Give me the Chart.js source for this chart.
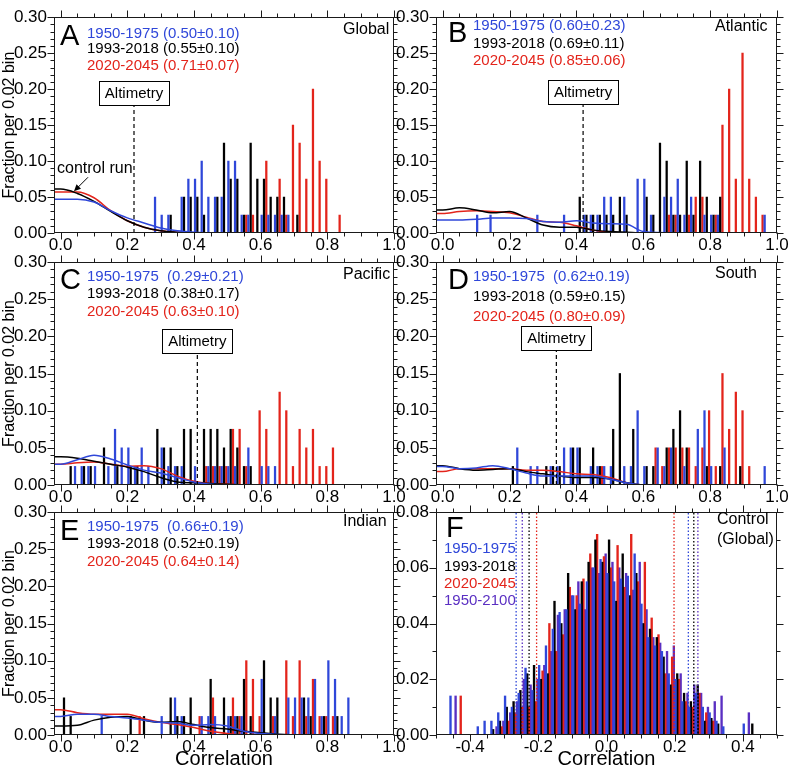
<!doctype html>
<html>
<head>
<meta charset="UTF-8" />
<script src="https://cdn.jsdelivr.net/npm/chart.js@4"></script>
<style>
  body { margin: 0; background: #fff; }
  #wrap { position: relative; width: 796px; height: 773px; }
  #wrap canvas { position: absolute; left: 0; top: 0; }
</style>
</head>
<body>
<div id="wrap"></div>
<script>
// tick labels
const xTicksAE = [0, 0.2, 0.4, 0.6, 0.8, 1.0];
const yTicksAE = [0, 0.05, 0.10, 0.15, 0.20, 0.25, 0.30];
const xTicksF = [-0.4, -0.2, 0, 0.2, 0.4];
const yTicksF = [0, 0.02, 0.04, 0.06, 0.08];

// control run density curves (x grid shared by A-E)
const ctrlX = [-0.02, 0, 0.05, 0.1, 0.15, 0.2, 0.25, 0.3, 0.35, 0.4, 0.45, 0.5, 0.55, 0.6, 0.7, 1.0];
const aCtrlBlue  = [0.047, 0.047, 0.047, 0.043, 0.031, 0.021, 0.014, 0.007, 0.003, 0.001, 0, 0, 0, 0, 0, 0];
const aCtrlBlack = [0.061, 0.061, 0.055, 0.044, 0.030, 0.017, 0.008, 0.003, 0.001, 0, 0, 0, 0, 0, 0, 0];
const aCtrlRed   = [0.057, 0.057, 0.057, 0.049, 0.031, 0.017, 0.008, 0.003, 0.001, 0, 0, 0, 0, 0, 0, 0];
const bCtrlBlue  = [0.018, 0.018, 0.018, 0.019, 0.021, 0.021, 0.020, 0.016, 0.015, 0.017, 0.014, 0.013, 0.012, 0.002, 0, 0];
const bCtrlBlack = [0.032, 0.032, 0.035, 0.032, 0.028, 0.030, 0.021, 0.011, 0.008, 0.008, 0.004, 0.002, 0.001, 0, 0, 0];
const bCtrlRed   = [0.027, 0.027, 0.030, 0.031, 0.030, 0.028, 0.022, 0.016, 0.015, 0.010, 0.004, 0.001, 0, 0, 0, 0];
const cCtrlBlue  = [0.028, 0.028, 0.034, 0.040, 0.035, 0.027, 0.020, 0.016, 0.010, 0.004, 0.001, 0, 0, 0, 0, 0];
const cCtrlBlack = [0.038, 0.038, 0.036, 0.032, 0.028, 0.024, 0.018, 0.010, 0.004, 0.003, 0.002, 0.001, 0, 0, 0, 0];
const cCtrlRed   = [0.028, 0.028, 0.030, 0.031, 0.028, 0.025, 0.026, 0.022, 0.012, 0.005, 0.002, 0.001, 0, 0, 0, 0];
const dCtrlBlue  = [0.025, 0.025, 0.022, 0.023, 0.026, 0.022, 0.016, 0.012, 0.012, 0.012, 0.012, 0.008, 0.003, 0, 0, 0];
const dCtrlBlack = [0.026, 0.026, 0.022, 0.020, 0.021, 0.022, 0.018, 0.015, 0.012, 0.010, 0.010, 0.008, 0.003, 0, 0, 0];
const dCtrlRed   = [0.018, 0.018, 0.022, 0.022, 0.022, 0.022, 0.020, 0.020, 0.018, 0.015, 0.014, 0.010, 0.003, 0, 0, 0];
const eCtrlBlue  = [0.025, 0.025, 0.028, 0.028, 0.025, 0.023, 0.020, 0.017, 0.016, 0.013, 0.014, 0.012, 0.005, 0.002, 0, 0];
const eCtrlBlack = [0.012, 0.012, 0.013, 0.020, 0.024, 0.025, 0.020, 0.017, 0.018, 0.014, 0.010, 0.008, 0.005, 0.003, 0, 0];
const eCtrlRed   = [0.034, 0.034, 0.030, 0.028, 0.028, 0.028, 0.022, 0.017, 0.014, 0.010, 0.005, 0.002, 0, 0, 0, 0];

// ensemble histograms, fraction per 0.02 bin
const aBlueBins  = [0.29, 0.31, 0.33, 0.37, 0.39, 0.41, 0.43, 0.45, 0.47, 0.49, 0.51, 0.53, 0.55, 0.57, 0.61, 0.63, 0.65, 0.67, 0.69];
const aBlueFrac  = [0.05, 0.025, 0.025, 0.05, 0.075, 0.075, 0.10, 0.05, 0.05, 0.05, 0.10, 0.10, 0.025, 0.025, 0.025, 0.025, 0.025, 0.025, 0.025];
const aBlackBins = [0.33, 0.37, 0.39, 0.41, 0.43, 0.47, 0.49, 0.51, 0.53, 0.55, 0.57, 0.59, 0.61, 0.63, 0.65, 0.67, 0.71];
const aBlackFrac = [0.025, 0.05, 0.05, 0.05, 0.025, 0.05, 0.125, 0.075, 0.075, 0.025, 0.125, 0.075, 0.075, 0.05, 0.05, 0.05, 0.025];
const aRedBins   = [0.55, 0.57, 0.61, 0.65, 0.67, 0.69, 0.71, 0.73, 0.75, 0.77, 0.79, 0.83];
const aRedFrac   = [0.025, 0.025, 0.10, 0.075, 0.025, 0.15, 0.125, 0.075, 0.20, 0.10, 0.075, 0.025];

const bBlueBins  = [0.11, 0.15, 0.29, 0.37, 0.43, 0.45, 0.47, 0.49, 0.51, 0.55, 0.59, 0.61, 0.63, 0.67, 0.69, 0.71, 0.73, 0.75, 0.79, 0.81, 0.83, 0.97];
const bBlueFrac  = [0.025, 0.025, 0.025, 0.025, 0.025, 0.025, 0.025, 0.05, 0.05, 0.05, 0.075, 0.075, 0.025, 0.05, 0.05, 0.075, 0.025, 0.05, 0.025, 0.025, 0.025, 0.025];
const bBlackBins = [0.41, 0.43, 0.45, 0.47, 0.49, 0.51, 0.53, 0.55, 0.61, 0.63, 0.65, 0.67, 0.69, 0.71, 0.73, 0.75, 0.77, 0.79, 0.81, 0.83];
const bBlackFrac = [0.05, 0.025, 0.025, 0.025, 0.025, 0.025, 0.05, 0.025, 0.05, 0.025, 0.125, 0.10, 0.025, 0.025, 0.10, 0.025, 0.10, 0.05, 0.025, 0.05];
const bRedBins   = [0.67, 0.69, 0.73, 0.75, 0.77, 0.81, 0.83, 0.85, 0.87, 0.89, 0.91, 0.93, 0.95];
const bRedFrac   = [0.025, 0.025, 0.025, 0.05, 0.05, 0.025, 0.15, 0.20, 0.075, 0.25, 0.075, 0.05, 0.025];

const cBlueBins  = [0.05, 0.07, 0.09, 0.11, 0.15, 0.17, 0.19, 0.21, 0.23, 0.25, 0.27, 0.31, 0.33, 0.35, 0.37, 0.41, 0.45, 0.47, 0.49, 0.51, 0.53, 0.57, 0.61, 0.63, 0.65];
const cBlueFrac  = [0.025, 0.025, 0.025, 0.025, 0.025, 0.075, 0.05, 0.05, 0.025, 0.05, 0.025, 0.05, 0.025, 0.025, 0.025, 0.025, 0.025, 0.025, 0.025, 0.025, 0.025, 0.05, 0.025, 0.025, 0.025];
const cBlackBins = [0.03, 0.07, 0.09, 0.13, 0.17, 0.21, 0.23, 0.29, 0.31, 0.33, 0.35, 0.37, 0.39, 0.43, 0.45, 0.47, 0.49, 0.51, 0.53, 0.55, 0.57];
const cBlackFrac = [0.025, 0.025, 0.025, 0.05, 0.025, 0.025, 0.025, 0.075, 0.05, 0.05, 0.025, 0.075, 0.075, 0.075, 0.075, 0.075, 0.05, 0.075, 0.05, 0.025, 0.025];
const cRedBins   = [0.43, 0.45, 0.47, 0.49, 0.51, 0.53, 0.55, 0.59, 0.61, 0.65, 0.67, 0.69, 0.71, 0.73, 0.75, 0.77, 0.79, 0.81];
const cRedFrac   = [0.025, 0.025, 0.025, 0.025, 0.075, 0.075, 0.025, 0.10, 0.075, 0.125, 0.10, 0.025, 0.075, 0.05, 0.075, 0.025, 0.025, 0.05];

const dBlueBins  = [0.23, 0.27, 0.29, 0.33, 0.35, 0.37, 0.39, 0.41, 0.45, 0.47, 0.49, 0.51, 0.55, 0.57, 0.59, 0.61, 0.65, 0.67, 0.69, 0.73, 0.77, 0.79, 0.81, 0.85, 0.97];
const dBlueFrac  = [0.05, 0.025, 0.025, 0.025, 0.025, 0.05, 0.05, 0.05, 0.025, 0.025, 0.025, 0.025, 0.025, 0.025, 0.10, 0.025, 0.05, 0.025, 0.05, 0.025, 0.075, 0.10, 0.025, 0.05, 0.025];
const dBlackBins = [0.21, 0.31, 0.33, 0.35, 0.39, 0.41, 0.45, 0.47, 0.51, 0.53, 0.57, 0.61, 0.63, 0.67, 0.69, 0.71, 0.73, 0.79, 0.83, 0.89];
const dBlackFrac = [0.025, 0.025, 0.025, 0.025, 0.05, 0.05, 0.05, 0.025, 0.075, 0.15, 0.075, 0.025, 0.025, 0.05, 0.075, 0.10, 0.05, 0.025, 0.025, 0.025];
const dRedBins   = [0.47, 0.63, 0.65, 0.67, 0.69, 0.71, 0.73, 0.75, 0.77, 0.79, 0.81, 0.83, 0.85, 0.87, 0.89, 0.91];
const dRedFrac   = [0.025, 0.05, 0.025, 0.05, 0.05, 0.05, 0.05, 0.025, 0.05, 0.10, 0.025, 0.15, 0.075, 0.125, 0.10, 0.025];

const eBlueBins  = [0.13, 0.31, 0.35, 0.37, 0.43, 0.45, 0.47, 0.51, 0.53, 0.55, 0.61, 0.65, 0.69, 0.71, 0.73, 0.75, 0.77, 0.79, 0.81, 0.83, 0.85, 0.87];
const eBlueFrac  = [0.025, 0.025, 0.05, 0.025, 0.025, 0.025, 0.025, 0.025, 0.025, 0.025, 0.075, 0.025, 0.05, 0.05, 0.05, 0.05, 0.075, 0.025, 0.10, 0.075, 0.025, 0.05];
const eBlackBins = [0.01, 0.03, 0.21, 0.25, 0.33, 0.35, 0.37, 0.39, 0.45, 0.49, 0.51, 0.53, 0.55, 0.57, 0.61, 0.63, 0.65, 0.73, 0.75, 0.79, 0.83];
const eBlackFrac = [0.05, 0.025, 0.025, 0.025, 0.05, 0.025, 0.025, 0.05, 0.075, 0.05, 0.025, 0.025, 0.075, 0.025, 0.10, 0.05, 0.05, 0.05, 0.025, 0.025, 0.025];
const eRedBins   = [0.23, 0.41, 0.45, 0.51, 0.53, 0.55, 0.57, 0.59, 0.63, 0.67, 0.69, 0.71, 0.73, 0.75, 0.77, 0.79, 0.81];
const eRedFrac   = [0.025, 0.025, 0.05, 0.05, 0.025, 0.10, 0.075, 0.025, 0.025, 0.10, 0.025, 0.10, 0.025, 0.075, 0.025, 0.025, 0.025];

// panel F: control run, global
const fBins = [-0.49, -0.47, -0.45, -0.43, -0.41, -0.39, -0.37, -0.35, -0.33, -0.31,
               -0.29, -0.27, -0.25, -0.23, -0.21, -0.19, -0.17, -0.15, -0.13, -0.11,
               -0.09, -0.07, -0.05, -0.03, -0.01, 0.01, 0.03, 0.05, 0.07, 0.09,
               0.11, 0.13, 0.15, 0.17, 0.19, 0.21, 0.23, 0.25, 0.27, 0.29,
               0.31, 0.33, 0.35, 0.37, 0.39, 0.41, 0.43, 0.45, 0.47, 0.49];
const fBlue = [0, 0, 0.014, 0, 0, 0, 0.003, 0.005, 0.005, 0.008,
               0.014, 0.010, 0.015, 0.024, 0.016, 0.025, 0.032, 0.038, 0.044, 0.045,
               0.050, 0.047, 0.055, 0.060, 0.063, 0.058, 0.055, 0.056, 0.057, 0.065,
               0.047, 0.035, 0.032, 0.030, 0.022, 0.020, 0.012, 0.010, 0.015, 0.010,
               0.008, 0.005, 0.003, 0, 0, 0.004, 0, 0, 0, 0];
const fBlack = [0, 0, 0, 0, 0, 0, 0, 0, 0.002, 0.005,
                0.010, 0.012, 0.016, 0.022, 0.025, 0.020, 0.022, 0.048, 0.040, 0.058,
                0.045, 0.055, 0.062, 0.070, 0.062, 0.070, 0.048, 0.065, 0.050, 0.058,
                0.040, 0.038, 0.035, 0.028, 0.018, 0.022, 0.015, 0.012, 0.018, 0.005,
                0.006, 0.004, 0, 0, 0, 0, 0.004, 0, 0, 0];
const fRed = [0, 0, 0, 0.014, 0, 0, 0, 0, 0, 0.003,
              0.005, 0.008, 0.010, 0.010, 0.012, 0.023, 0.040, 0.030, 0.036, 0.053,
              0.050, 0.056, 0.065, 0.072, 0.064, 0.060, 0.068, 0.053, 0.072, 0.055,
              0.062, 0.042, 0.036, 0.022, 0.028, 0.020, 0.012, 0.010, 0.015, 0.008,
              0.005, 0, 0, 0, 0, 0, 0, 0, 0, 0];
const fPurple = [0, 0, 0.014, 0, 0, 0, 0, 0, 0.003, 0.005,
                 0.008, 0.012, 0.020, 0.018, 0.020, 0.025, 0.030, 0.043, 0.045, 0.050,
                 0.055, 0.045, 0.060, 0.058, 0.065, 0.062, 0.060, 0.058, 0.052, 0.062,
                 0.045, 0.035, 0.033, 0.030, 0.032, 0.022, 0.015, 0.018, 0.015, 0.010,
                 0.012, 0.014, 0, 0, 0, 0.008, 0, 0, 0, 0];
// 5-95% limits drawn as dotted lines
const fBlueCut = [-0.265, 0.240];
const fBlackCut = [-0.227, 0.256];
const fRedCut = [-0.205, 0.198];
const fPurpleCut = [-0.247, 0.268];

const BLUE = "#2f47d9", RED = "#e3241b", PURPLE = "#5a2fc2", BLACK = "#000000";
const FONT = '"Liberation Sans", Arial, Helvetica, sans-serif';
Chart.defaults.font.family = FONT;
Chart.defaults.color = "#000";

const COLS = [
    { left: 54, right: 394, yw: 54, letterDx: 6, legendDx: 33, regionDx: 289 },
    { left: 436, right: 777, yw: 40, letterDx: 12, legendDx: 37, regionDx: 279 },
];
const ROWS = [
    { top: 11, bottom: 233, xh: 20 },
    { top: 262, bottom: 485, xh: 20 },
    { top: 512, bottom: 735, xh: 36 },
];

const panels = [
    { letter: "A", col: 0, row: 0, region: "Global", letterY: 27.7, regionY: 12.5, legendY: [16.5, 31.5, 49],
      legend: ["1950-1975 (0.50\u00b10.10)", "1993-2018 (0.55\u00b10.10)", "2020-2045 (0.71\u00b10.07)"],
      alt: 0.22, altY: 0.195, note: true,
      bars: [[aBlueBins, aBlueFrac], [aBlackBins, aBlackFrac], [aRedBins, aRedFrac]],
      curves: [aCtrlBlue, aCtrlBlack, aCtrlRed] },
    { letter: "B", col: 1, row: 0, region: "Atlantic", letterY: 24.4, regionY: 9, legendY: [9, 26.5, 44],
      legend: ["1950-1975 (0.60\u00b10.23)", "1993-2018 (0.69\u00b10.11)", "2020-2045 (0.85\u00b10.06)"],
      alt: 0.42, altY: 0.196,
      bars: [[bBlueBins, bBlueFrac], [bBlackBins, bBlackFrac], [bRedBins, bRedFrac]],
      curves: [bCtrlBlue, bCtrlBlack, bCtrlRed] },
    { letter: "C", col: 0, row: 1, region: "Pacific", letterY: 27.4, regionY: 13, legendY: [14.5, 31.5, 49.5],
      legend: ["1950-1975  (0.29\u00b10.21)", "1993-2018 (0.38\u00b10.17)", "2020-2045 (0.63\u00b10.10)"],
      alt: 0.41, altY: 0.194,
      bars: [[cBlueBins, cBlueFrac], [cBlackBins, cBlackFrac], [cRedBins, cRedFrac]],
      curves: [cCtrlBlue, cCtrlBlack, cCtrlRed] },
    { letter: "D", col: 1, row: 1, region: "South", letterY: 27.4, regionY: 11.5, legendY: [14.5, 34.5, 54.5],
      legend: ["1950-1975  (0.62\u00b10.19)", "1993-2018 (0.59\u00b10.15)", "2020-2045 (0.80\u00b10.09)"],
      alt: 0.34, altY: 0.198,
      bars: [[dBlueBins, dBlueFrac], [dBlackBins, dBlackFrac], [dRedBins, dRedFrac]],
      curves: [dCtrlBlue, dCtrlBlack, dCtrlRed] },
    { letter: "E", col: 0, row: 2, region: "Indian", letterY: 28.4, regionY: 9.5, legendY: [14.5, 31.5, 49.5],
      legend: ["1950-1975  (0.66\u00b10.19)", "1993-2018 (0.52\u00b10.19)", "2020-2045 (0.64\u00b10.14)"],
      bars: [[eBlueBins, eBlueFrac], [eBlackBins, eBlackFrac], [eRedBins, eRedFrac]],
      curves: [eCtrlBlue, eCtrlBlack, eCtrlRed] },
];

const seriesColors = [BLUE, BLACK, RED];
const wrap = document.getElementById("wrap");

const isMajor = (v, step) => Math.abs(v / step - Math.round(v / step)) < 1e-6;

function deco(p) {
    return {
        id: "deco" + p.letter,
        afterDatasetsDraw(chart) {
            const { ctx, chartArea: a, scales: { x, y } } = chart;
            const col = COLS[p.col];
            ctx.save();
            ctx.strokeStyle = "#1a1a1a";
            ctx.lineWidth = 1;
            const L = Math.round(a.left) + 0.5, R = Math.round(a.right) - 0.5;
            const T = Math.round(a.top) + 0.5, B = Math.round(a.bottom) - 0.5;
            ctx.strokeRect(L, T, R - L, B - T);

            // outward ticks on all four sides
            ctx.beginPath();
            const xMinor = 0.05, xMajor = 0.2;
            for (let k = Math.ceil(x.min / xMinor - 1e-6); k * xMinor <= x.max + 1e-9; k++) {
                const v = k * xMinor;
                const len = isMajor(v, xMajor) ? 7 : 4;
                const px = Math.round(x.getPixelForValue(v)) + 0.5;
                ctx.moveTo(px, B); ctx.lineTo(px, B + len);
                ctx.moveTo(px, T); ctx.lineTo(px, T - len);
            }
            const yMinor = 0.01, yMajor = p.isF ? 0.02 : 0.05;
            for (let k = 0; k * yMinor <= y.max + 1e-9; k++) {
                const v = k * yMinor;
                const len = isMajor(v, yMajor) ? 7 : 4;
                const py = Math.round(y.getPixelForValue(v)) + 0.5;
                ctx.moveTo(L, py); ctx.lineTo(L - len, py);
                ctx.moveTo(R, py); ctx.lineTo(R + len, py);
            }
            ctx.stroke();

            // panel letter
            ctx.fillStyle = "#000";
            ctx.textBaseline = "alphabetic";
            ctx.textAlign = "left";
            ctx.font = "29px " + FONT;
            ctx.fillText(p.letter, a.left + (p.isF ? 10 : col.letterDx), a.top + p.letterY);

            // period legend
            ctx.textBaseline = "middle";
            ctx.font = "15px " + FONT;
            p.legend.forEach((t, i) => {
                ctx.fillStyle = p.legendColors ? p.legendColors[i] : seriesColors[i];
                ctx.fillText(t, a.left + (p.isF ? 8 : col.legendDx), a.top + p.legendY[i]);
            });

            // region name
            ctx.fillStyle = "#000";
            ctx.font = "16px " + FONT;
            const regionLines = Array.isArray(p.region) ? p.region : [p.region];
            regionLines.forEach((t, i) => {
                ctx.fillText(t, a.left + (p.isF ? 281 : col.regionDx), a.top + p.regionY + i * 20);
            });

            // altimetry box
            if (p.alt !== undefined) {
                ctx.font = "15px " + FONT;
                const cx = x.getPixelForValue(p.alt);
                const cy = y.getPixelForValue(p.altY);
                const w = ctx.measureText("Altimetry").width + 12, h = 24;
                const bx = Math.round(cx - w / 2) + 0.5, by = Math.round(cy - h / 2) + 0.5;
                ctx.fillStyle = "#fff";
                ctx.fillRect(bx, by, w, h);
                ctx.strokeStyle = "#000";
                ctx.strokeRect(bx, by, Math.round(w), h);
                ctx.fillStyle = "#000";
                ctx.textAlign = "center";
                ctx.fillText("Altimetry", cx, cy + 1);
                ctx.textAlign = "left";
            }

            // control run label with arrow
            if (p.note) {
                ctx.font = "16px " + FONT;
                ctx.fillStyle = "#000";
                ctx.fillText("control run", a.left + 3, a.top + 151);
                const tx = x.getPixelForValue(0.04), ty = y.getPixelForValue(0.058);
                const sx = tx + 14, sy = ty - 14;
                ctx.strokeStyle = "#000";
                ctx.lineWidth = 1;
                ctx.beginPath();
                ctx.moveTo(sx, sy); ctx.lineTo(tx + 2, ty - 2);
                ctx.stroke();
                ctx.beginPath();
                ctx.moveTo(tx, ty);
                ctx.lineTo(tx + 7, ty - 2.5);
                ctx.lineTo(tx + 2.5, ty - 7);
                ctx.closePath();
                ctx.fill();
            }
            ctx.restore();
        },
    };
}

function makeChart(p) {
    const col = COLS[p.col], row = ROWS[p.row];
    const cv = document.createElement("canvas");
    cv.width = 796;
    cv.height = 773;
    wrap.appendChild(cv);

    const datasets = [];
    const barStyle = p.isF
        ? { barThickness: 1.7, maxBarThickness: 1.7 }
        : { barThickness: 2.3, maxBarThickness: 1.6 };

    if (p.alt !== undefined) {
        datasets.push({
            type: "line",
            data: [{ x: p.alt, y: 0 }, { x: p.alt, y: p.altY - 0.015 }],
            borderColor: "#000", borderWidth: 1.2, borderDash: [4, 3], pointRadius: 0,
        });
    }
    (p.cuts || []).forEach(([vals, color]) => {
        vals.forEach((v) => {
            datasets.push({
                type: "line",
                data: [{ x: v, y: 0 }, { x: v, y: 0.08 }],
                borderColor: color, borderWidth: 1.3, borderDash: [1.5, 2], pointRadius: 0,
            });
        });
    });
    (p.curves || []).forEach((vals, i) => {
        datasets.push({
            type: "line",
            data: ctrlX.map((v, j) => ({ x: v, y: vals[j] })),
            borderColor: seriesColors[i], borderWidth: 1.5, pointRadius: 0,
            cubicInterpolationMode: "monotone",
        });
    });
    p.bars.forEach(([bins, fracs], i) => {
        datasets.push({
            type: "bar",
            data: bins.map((b, j) => ({ x: b, y: fracs[j] })),
            backgroundColor: p.barColors ? p.barColors[i] : seriesColors[i],
            borderWidth: 0,
            grouped: true,
            ...barStyle,
        });
    });

    const xTicks = p.isF ? xTicksF : xTicksAE;
    const yTicks = p.isF ? yTicksF : yTicksAE;

    new Chart(cv, {
        type: "bar",
        data: { datasets },
        options: {
            responsive: false,
            animation: false,
            events: [],
            layout: {
                padding: {
                    left: col.left - col.yw,
                    right: 796 - col.right,
                    top: row.top,
                    bottom: 773 - row.bottom - row.xh,
                },
            },
            plugins: { legend: { display: false }, tooltip: { enabled: false } },
            scales: {
                x: {
                    type: "linear",
                    offset: false,
                    min: p.isF ? -0.5 : -0.02,
                    max: p.isF ? 0.5 : 1.0,
                    afterBuildTicks: (s) => { s.ticks = xTicks.map((v) => ({ value: v })); },
                    afterFit: (s) => { s.height = row.xh; },
                    grid: { display: false, drawTicks: false, tickLength: 0 },
                    border: { display: false },
                    ticks: {
                        padding: 2, autoSkip: false, maxRotation: 0,
                        font: { size: 17 }, color: "#000",
                        callback: (v) => v.toFixed(1),
                    },
                    title: {
                        display: row === ROWS[2], text: "Correlation",
                        font: { size: 20 }, color: "#000", padding: 0,
                    },
                },
                y: {
                    min: 0,
                    max: p.isF ? 0.08 : 0.30,
                    afterBuildTicks: (s) => { s.ticks = yTicks.map((v) => ({ value: v })); },
                    afterFit: (s) => { s.width = col.yw; },
                    grid: { display: false, drawTicks: false, tickLength: 0 },
                    border: { display: false },
                    ticks: {
                        padding: 7, font: { size: 17 }, color: "#000",
                        callback: (v) => v.toFixed(2),
                    },
                    title: {
                        display: p.col === 0, text: "Fraction per 0.02 bin",
                        font: { size: 16 }, color: "#000", padding: 0,
                    },
                },
            },
        },
        plugins: [deco(p)],
    });
}

panels.forEach(makeChart);

makeChart({
    letter: "F", col: 1, row: 2, isF: true,
    region: ["Control", "(Global)"], letterY: 25.4, regionY: 8, legendY: [37, 54.5, 72, 89],
    legend: ["1950-1975", "1993-2018", "2020-2045", "1950-2100"],
    legendColors: [BLUE, BLACK, RED, PURPLE],
    barColors: [BLUE, BLACK, RED, PURPLE],
    cuts: [[fBlackCut, BLACK], [fRedCut, RED], [fPurpleCut, PURPLE], [fBlueCut, BLUE]],
    bars: [[fBins, fBlue], [fBins, fBlack], [fBins, fRed], [fBins, fPurple]],
});
</script>
</body>
</html>
